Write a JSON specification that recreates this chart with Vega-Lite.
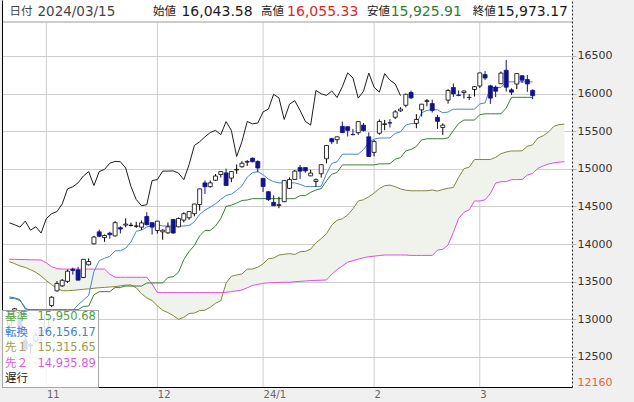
{
"$schema": "https://vega.github.io/schema/vega-lite/v6.json",
"width": 570, "height": 387,
"autosize": {"type": "none"},
"padding": {"left": 2, "top": 0, "right": 62, "bottom": 15},
"background": "#f0f0f0",
"config": {"view": {"fill": "#ffffff", "stroke": null}, "font": "DejaVu Sans"},
"datasets": {
"m": [{"i":7},{"i":28},{"i":48},{"i":69},{"i":89}],
"d": [
{"i":0,"o":12921,"h":13107,"l":12856,"c":13018,"tk":13280,"kj":13298,"sa":13766,"sb":13798,"ch":14282},
{"i":1,"o":13083,"h":13152,"l":13030,"c":13140,"tk":13275,"kj":13285,"sa":13740,"sb":13798,"ch":14258},
{"i":2,"o":13040,"h":13045,"l":12809,"c":12821,"tk":13250,"kj":13262,"sa":13710,"sb":13796,"ch":14226},
{"i":3,"o":12724,"h":12776,"l":12563,"c":12596,"tk":13160,"kj":13138.5,"sa":13690,"sb":13794,"ch":14305},
{"i":4,"o":12663,"h":12687,"l":12544,"c":12643,"tk":13075,"kj":13129,"sa":13660,"sb":13792,"ch":14185},
{"i":5,"o":12713,"h":12823,"l":12690,"c":12789,"tk":13030,"kj":13129,"sa":13625,"sb":13790,"ch":14230},
{"i":6,"o":12793,"h":12852,"l":12710,"c":12851,"tk":12970,"kj":13129,"sa":13576,"sb":13789,"ch":14147},
{"i":7,"o":12848,"h":13091,"l":12827,"c":13061,"tk":12880,"kj":13129,"sa":13515,"sb":13750,"ch":14340},
{"i":8,"o":13183,"h":13308,"l":13162,"c":13294,"tk":12926,"kj":13129,"sa":13460,"sb":13700,"ch":14404},
{"i":9,"o":13379,"h":13508,"l":13369,"c":13478,"tk":13026,"kj":13129,"sa":13410,"sb":13675,"ch":14432},
{"i":10,"o":13445,"h":13534,"l":13431,"c":13519,"tk":13039,"kj":13129,"sa":13381,"sb":13668,"ch":14533},
{"i":11,"o":13505,"h":13661,"l":13484,"c":13640,"tk":13102.5,"kj":13129,"sa":13381,"sb":13668,"ch":14734},
{"i":12,"o":13667,"h":13687,"l":13595,"c":13650,"tk":13115.5,"kj":13129,"sa":13385,"sb":13668,"ch":14762},
{"i":13,"o":13657,"h":13697,"l":13517,"c":13521,"tk":13193.5,"kj":13129,"sa":13392,"sb":13668,"ch":14814},
{"i":14,"o":13556,"h":13800,"l":13548,"c":13798,"tk":13255,"kj":13172,"sa":13400,"sb":13668,"ch":14905},
{"i":15,"o":13725,"h":13810,"l":13716,"c":13768,"tk":13318.5,"kj":13177,"sa":13405,"sb":13668,"ch":14964},
{"i":16,"o":14004,"h":14110,"l":13997,"c":14094,"tk":13636,"kj":13327,"sa":13413,"sb":13668,"ch":14778},
{"i":17,"o":14163,"h":14192,"l":14091,"c":14104,"tk":13780.5,"kj":13368,"sa":13420,"sb":13668,"ch":14964},
{"i":18,"o":14086,"h":14128,"l":14031,"c":14114,"tk":13811.5,"kj":13368,"sa":13425,"sb":13668,"ch":14993},
{"i":19,"o":14145,"h":14164,"l":14072,"c":14125,"tk":13838,"kj":13368,"sa":13430,"sb":13600,"ch":15075},
{"i":20,"o":14109,"h":14305,"l":14101,"c":14285,"tk":13911,"kj":13424.5,"sa":13435,"sb":13559,"ch":15099},
{"i":21,"o":14218,"h":14237,"l":14141,"c":14200,"tk":13911,"kj":13424.5,"sa":13445,"sb":13559,"ch":15095},
{"i":22,"o":14252,"h":14342,"l":14223,"c":14266,"tk":13945,"kj":13443,"sa":13455,"sb":13559,"ch":15011},
{"i":23,"o":14247,"h":14285,"l":14234,"c":14251,"tk":14029,"kj":13443,"sa":13457,"sb":13559,"ch":14766},
{"i":24,"o":14237,"h":14296,"l":14215,"c":14241,"tk":14169.5,"kj":13443,"sa":13420,"sb":13559,"ch":14592},
{"i":25,"o":14225,"h":14313,"l":14189,"c":14282,"tk":14186.5,"kj":13443,"sa":13340,"sb":13559,"ch":14510},
{"i":26,"o":14367,"h":14423,"l":14249,"c":14258,"tk":14227,"kj":13483.5,"sa":13285,"sb":13559,"ch":14524},
{"i":27,"o":14285,"h":14286,"l":14127,"c":14226,"tk":14247.5,"kj":13483.5,"sa":13250,"sb":13470,"ch":14844},
{"i":28,"o":14181,"h":14309,"l":14140,"c":14305,"tk":14262,"kj":13483.5,"sa":13180,"sb":13355,"ch":14858},
{"i":29,"o":14163,"h":14196,"l":14058,"c":14185,"tk":14240.5,"kj":13483.5,"sa":13120,"sb":13355,"ch":14970},
{"i":30,"o":14150,"h":14289,"l":14137,"c":14230,"tk":14240.5,"kj":13556.5,"sa":13090,"sb":13355,"ch":14970},
{"i":31,"o":14328,"h":14334,"l":14140,"c":14147,"tk":14240.5,"kj":13566.5,"sa":13050,"sb":13355,"ch":14973},
{"i":32,"o":14229,"h":14353,"l":14225,"c":14340,"tk":14240.5,"kj":13625,"sa":13000,"sb":13355,"ch":14944},
{"i":33,"o":14319,"h":14424,"l":14289,"c":14404,"tk":14241,"kj":13793,"sa":13027.5,"sb":13355,"ch":14856},
{"i":34,"o":14350,"h":14433,"l":14324,"c":14432,"tk":14245.5,"kj":13901,"sa":13077.5,"sb":13355,"ch":15056},
{"i":35,"o":14404,"h":14534,"l":14370,"c":14533,"tk":14296,"kj":13982.5,"sa":13084,"sb":13355,"ch":15311},
{"i":36,"o":14526,"h":14734,"l":14446,"c":14734,"tk":14396,"kj":14109,"sa":13116,"sb":13355,"ch":15360},
{"i":37,"o":14813,"h":14846,"l":14666,"c":14762,"tk":14452,"kj":14181.5,"sa":13122,"sb":13355,"ch":15426},
{"i":38,"o":14764,"h":14845,"l":14750,"c":14814,"tk":14491.5,"kj":14181.5,"sa":13161,"sb":13355,"ch":15482},
{"i":39,"o":14848,"h":14931,"l":14839,"c":14905,"tk":14535.5,"kj":14239.5,"sa":13213.5,"sb":13355,"ch":15511},
{"i":40,"o":14925,"h":14965,"l":14885,"c":14964,"tk":14595,"kj":14340.5,"sa":13248,"sb":13355,"ch":15455},
{"i":41,"o":14946,"h":15003,"l":14777,"c":14778,"tk":14646,"kj":14500,"sa":13481.5,"sb":13360,"ch":15628},
{"i":42,"o":14877,"h":14969,"l":14823,"c":14964,"tk":14663.5,"kj":14517,"sa":13574,"sb":13368,"ch":15510},
{"i":43,"o":14985,"h":15059,"l":14934,"c":14993,"tk":14714.5,"kj":14545,"sa":13590,"sb":13380,"ch":15164},
{"i":44,"o":15028,"h":15101,"l":15016,"c":15075,"tk":14773.5,"kj":14579.5,"sa":13603,"sb":13390,"ch":15362},
{"i":45,"o":15089,"h":15114,"l":15039,"c":15099,"tk":14890,"kj":14586,"sa":13668,"sb":13420,"ch":15629},
{"i":46,"o":15142,"h":15150,"l":15087,"c":15095,"tk":14950,"kj":14604,"sa":13668,"sb":13450,"ch":15598},
{"i":47,"o":15099,"h":15112,"l":14955,"c":15011,"tk":14963.5,"kj":14604,"sa":13694,"sb":13465,"ch":15609},
{"i":48,"o":14873,"h":14873,"l":14694,"c":14766,"tk":14922,"kj":14604,"sa":13736,"sb":13479,"ch":15757},
{"i":49,"o":14696,"h":14707,"l":14574,"c":14592,"tk":14862,"kj":14604,"sa":13806,"sb":13485,"ch":15794},
{"i":50,"o":14555,"h":14649,"l":14509,"c":14510,"tk":14829.5,"kj":14604,"sa":13815,"sb":13488,"ch":15991},
{"i":51,"o":14515,"h":14628,"l":14477,"c":14524,"tk":14813.5,"kj":14604,"sa":13855,"sb":13490,"ch":15943},
{"i":52,"o":14564,"h":14847,"l":14557,"c":14844,"tk":14813.5,"kj":14604,"sa":13865.5,"sb":13493,"ch":15656},
{"i":53,"o":14741,"h":14886,"l":14731,"c":14858,"tk":14813.5,"kj":14604,"sa":13873,"sb":13493,"ch":15859},
{"i":54,"o":14859,"h":14985,"l":14852,"c":14970,"tk":14813.5,"kj":14604,"sa":13862,"sb":13500,"ch":15906},
{"i":55,"o":15017,"h":15053,"l":14867,"c":14970,"tk":14794.5,"kj":14643.5,"sa":13898.5,"sb":13505,"ch":15776},
{"i":56,"o":15017,"h":15018,"l":14947,"c":14973,"tk":14765,"kj":14645,"sa":13903.5,"sb":13510,"ch":15631},
{"i":57,"o":14907,"h":14988,"l":14902,"c":14944,"tk":14765,"kj":14687.5,"sa":13933,"sb":13515,"ch":15581},
{"i":58,"o":14832,"h":14871,"l":14762,"c":14856,"tk":14765,"kj":14719.5,"sa":14017,"sb":13518,"ch":16042},
{"i":59,"o":14935,"h":15061,"l":14884,"c":15056,"tk":14769,"kj":14737,"sa":14073,"sb":13520,"ch":15997},
{"i":60,"o":15134,"h":15313,"l":15072,"c":15311,"tk":14935,"kj":14841.5,"sa":14139,"sb":13523,"ch":15976},
{"i":61,"o":15401,"h":15414,"l":15329,"c":15360,"tk":15072.5,"kj":14930,"sa":14252.5,"sb":13600,"ch":16035},
{"i":62,"o":15388,"h":15426,"l":15332,"c":15426,"tk":15094,"kj":14951.5,"sa":14317,"sb":13660,"ch":15948},
{"i":63,"o":15564,"h":15628,"l":15475,"c":15482,"tk":15195,"kj":15052.5,"sa":14336.5,"sb":13710,"ch":16092},
{"i":64,"o":15560,"h":15564,"l":15431,"c":15511,"tk":15195,"kj":15052.5,"sa":14387.5,"sb":13760,"ch":16275},
{"i":65,"o":15457,"h":15531,"l":15444,"c":15455,"tk":15195,"kj":15052.5,"sa":14468,"sb":13780,"ch":16208},
{"i":66,"o":15481,"h":15628,"l":15453,"c":15628,"tk":15195,"kj":15052.5,"sa":14573,"sb":13800,"ch":15940},
{"i":67,"o":15581,"h":15608,"l":15495,"c":15510,"tk":15256,"kj":15052.5,"sa":14590,"sb":13818,"ch":16032},
{"i":68,"o":15426,"h":15485,"l":15163,"c":15164,"tk":15350,"kj":15052.5,"sa":14630,"sb":13833,"ch":16273},
{"i":69,"o":15219,"h":15383,"l":15167,"c":15362,"tk":15395.5,"kj":15052.5,"sa":14676.5,"sb":13840,"ch":16085},
{"i":70,"o":15474,"h":15656,"l":15454,"c":15629,"tk":15409.5,"kj":15066.5,"sa":14738,"sb":13848,"ch":16019},
{"i":71,"o":15590,"h":15650,"l":15514,"c":15598,"tk":15409.5,"kj":15066.5,"sa":14777,"sb":13855,"ch":16266},
{"i":72,"o":15612,"h":15660,"l":15550,"c":15609,"tk":15411.5,"kj":15068.5,"sa":14784,"sb":13855,"ch":16178},
{"i":73,"o":15686,"h":15780,"l":15661,"c":15757,"tk":15471.5,"kj":15128.5,"sa":14763,"sb":13855,"ch":16129},
{"i":74,"o":15771,"h":15819,"l":15758,"c":15794,"tk":15491,"kj":15148,"sa":14733,"sb":13855,"ch":15973},
{"i":75,"o":15845,"h":16000,"l":15819,"c":15991,"tk":15581.5,"kj":15238.5,"sa":14717,"sb":13855},
{"i":76,"o":16015,"h":16038,"l":15930,"c":15943,"tk":15600.5,"kj":15257.5,"sa":14709,"sb":13850},
{"i":77,"o":15605,"h":15727,"l":15540,"c":15656,"tk":15602.5,"kj":15297.5,"sa":14709,"sb":13850},
{"i":78,"o":15784,"h":15864,"l":15695,"c":15859,"tk":15746,"kj":15384.5,"sa":14709,"sb":13850},
{"i":79,"o":15896,"h":15927,"l":15830,"c":15906,"tk":15776,"kj":15400,"sa":14709,"sb":13850},
{"i":80,"o":15868,"h":15920,"l":15748,"c":15776,"tk":15789,"kj":15400,"sa":14719,"sb":13850},
{"i":81,"o":15685,"h":15717,"l":15531,"c":15631,"tk":15784.5,"kj":15400,"sa":14705,"sb":13920},
{"i":82,"o":15549,"h":15603,"l":15452,"c":15581,"tk":15745,"kj":15400,"sa":14726,"sb":13930},
{"i":83,"o":15913,"h":16059,"l":15867,"c":16042,"tk":15755.5,"kj":15410.5,"sa":14742,"sb":13988.5},
{"i":84,"o":16081,"h":16134,"l":15958,"c":15997,"tk":15793,"kj":15509,"sa":14753,"sb":14156},
{"i":85,"o":15981,"h":16042,"l":15965,"c":15976,"tk":15793,"kj":15603,"sa":14888,"sb":14341},
{"i":86,"o":16014,"h":16040,"l":15935,"c":16035,"tk":15793,"kj":15648.5,"sa":15001,"sb":14422.5},
{"i":87,"o":15950,"h":15994,"l":15914,"c":15948,"tk":15793,"kj":15648.5,"sa":15023,"sb":14455},
{"i":88,"o":16055,"h":16101,"l":15961,"c":16092,"tk":15793,"kj":15648.5,"sa":15124,"sb":14572.5},
{"i":89,"o":16101,"h":16275,"l":16075,"c":16275,"tk":15863.5,"kj":15719,"sa":15124,"sb":14572.5},
{"i":90,"o":16253,"h":16300,"l":16181,"c":16208,"tk":15876,"kj":15731.5,"sa":15124,"sb":14588},
{"i":91,"o":16103,"h":16116,"l":15863,"c":15940,"tk":16081.5,"kj":15731.5,"sa":15124,"sb":14672},
{"i":92,"o":16085,"h":16107,"l":15953,"c":16032,"tk":16081.5,"kj":15731.5,"sa":15154,"sb":14812.5},
{"i":93,"o":16131,"h":16293,"l":16129,"c":16273,"tk":16081.5,"kj":15731.5,"sa":15201,"sb":14829.5},
{"i":94,"o":16310,"h":16449,"l":16026,"c":16085,"tk":16156,"kj":15808,"sa":15224,"sb":14829.5},
{"i":95,"o":16050,"h":16071,"l":15982,"c":16019,"tk":16156,"kj":15950.5,"sa":15238,"sb":14857},
{"i":96,"o":16127,"h":16266,"l":16060,"c":16266,"tk":16156,"kj":15950.5,"sa":15238,"sb":14857},
{"i":97,"o":16237,"h":16245,"l":16143,"c":16178,"tk":16156,"kj":15950.5,"sa":15240,"sb":14859},
{"i":98,"o":16187,"h":16246,"l":16024,"c":16129,"tk":16156,"kj":15950.5,"sa":15300,"sb":14919},
{"i":99,"o":16044,"h":16055,"l":15926,"c":15973,"tk":16156,"kj":15950.5,"sa":15319.5,"sb":14938.5},
{"i":100,"sa":15410,"sb":15007},
{"i":101,"sa":15440,"sb":15040},
{"i":102,"sa":15490,"sb":15065},
{"i":103,"sa":15565,"sb":15080},
{"i":104,"sa":15588,"sb":15090},
{"i":105,"sa":15594.5,"sb":15095}
]},
"resolve": {"axis": {"x": "independent", "y": "independent"}},
"layer": [
{"data": {"name": "m"},
 "mark": {"type": "rule", "color": "#cdcdcd", "strokeWidth": 1},
 "encoding": {
  "x": {"field": "i", "type": "quantitative", "scale": {"domain": [-0.45, 105.5], "nice": false, "zero": false},
        "axis": {"orient": "bottom", "values": [7, 28, 48, 69, 89], "labelExpr": "datum.value == 7 ? '11' : datum.value == 28 ? '12' : datum.value == 48 ? '24/1' : datum.value == 69 ? '2' : '3'", "grid": false, "ticks": false, "domain": true, "domainColor": "#000000", "domainWidth": 1, "labelAlign": "left", "labelDx": 2, "labelBaseline": "top", "labelPadding": 2, "labelFontSize": 10, "labelColor": "#666666", "labelFont": "DejaVu Sans", "labelOverlap": false, "labelFlush": false, "title": null}},
  "y": {"datum": 16952, "type": "quantitative", "scale": {"domain": [12101, 17244], "nice": false, "zero": false}, "axis": null},
  "y2": {"datum": 12101}
 }},
{"data": {"name": "d"},
 "mark": {"type": "area", "color": "#f0f3ec", "opacity": 1},
 "encoding": {
  "x": {"field": "i", "type": "quantitative", "scale": {"domain": [-0.45, 105.5], "nice": false, "zero": false},
        "axis": {"orient": "top", "offset": -21.5, "values": [-0.078, 5.219, 27.06, 32.45, 47.51, 52.45, 67.58, 72.04, 87.58, 92.12],
                 "labelExpr": "datum.value < 2 ? '日付' : datum.value < 15 ? '2024/03/15' : datum.value < 30 ? '始値' : datum.value < 40 ? '16,043.58' : datum.value < 50 ? '高値' : datum.value < 60 ? '16,055.33' : datum.value < 70 ? '安値' : datum.value < 80 ? '15,925.91' : datum.value < 90 ? '終値' : '15,973.17'",
                 "labelColor": {"expr": "datum.value > 50 && datum.value < 60 ? '#e0281f' : datum.value > 70 && datum.value < 80 ? '#2f7f2f' : datum.value < 15 ? '#444444' : '#1a1a1a'"},
                 "labelFontSize": {"expr": "(datum.value > 30 && datum.value < 40) || (datum.value > 50 && datum.value < 60) || (datum.value > 70 && datum.value < 80) || datum.value > 90 ? 14 : (datum.value > 2 && datum.value < 15 ? 13.5 : 11.5)"},
                 "labelAlign": "left", "labelBaseline": "middle", "labelPadding": 10.5, "ticks": false, "grid": false, "domain": true, "domainColor": "#9a9a9a", "labelFont": "DejaVu Sans, Noto Sans CJK JP", "labelOverlap": false, "labelFlush": false, "title": null}},
  "y": {"field": "sa", "type": "quantitative", "scale": {"domain": [12101, 17244], "nice": false, "zero": false},
        "axis": {"orient": "right", "values": [12160, 12500, 13000, 13500, 14000, 14500, 15000, 15500, 16000, 16500], "format": "d", "grid": true, "gridColor": "#cdcdcd", "gridWidth": 1,
                 "gridOpacity": {"condition": {"test": "datum.value == 12160", "value": 0}, "value": 1},
                 "ticks": true, "tickSize": 4, "tickColor": "#b4b4b4",
                 "tickOpacity": {"condition": {"test": "datum.value == 12160", "value": 0}, "value": 1},
                 "domain": true, "domainColor": "#222222", "domainDash": [2, 2], "labelPadding": 1, "labelFontSize": 11,
                 "labelColor": {"condition": {"test": "datum.value == 12160", "value": "#e8643c"}, "value": "#333333"},
                 "labelFont": "DejaVu Sans", "labelOverlap": false, "labelFlush": false, "title": null}},
  "y2": {"field": "sb"}
 }},
{"data": {"name": "d"},
 "mark": {"type": "line", "strokeWidth": 1},
 "encoding": {
  "x": {"field": "i", "type": "quantitative", "scale": {"domain": [-0.45, 105.5], "nice": false, "zero": false}, "axis": null},
  "y": {"field": "sb", "type": "quantitative", "scale": {"domain": [12101, 17244], "nice": false, "zero": false}, "axis": null},
  "color": {"datum": "先２", "type": "nominal",
   "scale": {"domain": ["基準", "転換", "先１", "先２", "遅行"], "range": ["#3d7d38", "#4a86cc", "#85853f", "#e04ce0", "#1e1e1e"]},
   "legend": {"title": null, "orient": "bottom-left", "offset": 0, "padding": 1.5, "fillColor": "rgba(255,255,255,0.85)", "strokeColor": "#a8a8a8", "symbolType": "circle", "symbolSize": 0.01, "symbolOpacity": 0, "symbolFillColor": "transparent", "symbolStrokeColor": "transparent", "symbolStrokeWidth": 0, "labelOffset": -10, "rowPadding": 2.5, "labelFontSize": 11.5, "labelFont": "DejaVu Sans, Noto Sans CJK JP", "labelLimit": 200,
     "labelExpr": "datum.value == '基準' ? '基準\u2002\u00a015,950.68' : datum.value == '転換' ? '転換\u2002\u00a016,156.17' : datum.value == '先１' ? '先１\u2002\u00a015,315.65' : datum.value == '先２' ? '先２\u2002\u00a014,935.89' : '遅行'",
     "labelColor": {"expr": "datum.value == '基準' ? '#52a044' : datum.value == '転換' ? '#3f7fd6' : datum.value == '先１' ? '#9c9c4c' : datum.value == '先２' ? '#dc5cdc' : '#222222'"}}}
 }},
{"data": {"name": "d"},
 "mark": {"type": "line", "strokeWidth": 1},
 "encoding": {
  "x": {"field": "i", "type": "quantitative", "scale": {"domain": [-0.45, 105.5], "nice": false, "zero": false}, "axis": null},
  "y": {"field": "sa", "type": "quantitative", "scale": {"domain": [12101, 17244], "nice": false, "zero": false}, "axis": null},
  "color": {"datum": "先１", "type": "nominal"}
 }},
{"data": {"name": "d"},
 "mark": {"type": "line", "strokeWidth": 1},
 "encoding": {
  "x": {"field": "i", "type": "quantitative", "scale": {"domain": [-0.45, 105.5], "nice": false, "zero": false}, "axis": null},
  "y": {"field": "ch", "type": "quantitative", "scale": {"domain": [12101, 17244], "nice": false, "zero": false},
        "axis": {"orient": "left", "labels": false, "ticks": false, "grid": false, "domain": true, "domainColor": "#000000", "title": null}},
  "color": {"datum": "遅行", "type": "nominal"}
 }},
{"data": {"name": "d"},
 "mark": {"type": "line", "strokeWidth": 1},
 "encoding": {
  "x": {"field": "i", "type": "quantitative", "scale": {"domain": [-0.45, 105.5], "nice": false, "zero": false}, "axis": null},
  "y": {"field": "kj", "type": "quantitative", "scale": {"domain": [12101, 17244], "nice": false, "zero": false}, "axis": null},
  "color": {"datum": "基準", "type": "nominal"}
 }},
{"data": {"name": "d"},
 "mark": {"type": "line", "strokeWidth": 1},
 "encoding": {
  "x": {"field": "i", "type": "quantitative", "scale": {"domain": [-0.45, 105.5], "nice": false, "zero": false}, "axis": null},
  "y": {"field": "tk", "type": "quantitative", "scale": {"domain": [12101, 17244], "nice": false, "zero": false}, "axis": null},
  "color": {"datum": "転換", "type": "nominal"}
 }},
{"data": {"name": "d"},
 "mark": {"type": "rule", "strokeWidth": 1},
 "encoding": {
  "x": {"field": "i", "type": "quantitative", "scale": {"domain": [-0.45, 105.5], "nice": false, "zero": false}, "axis": null},
  "y": {"field": "l", "type": "quantitative", "scale": {"domain": [12101, 17244], "nice": false, "zero": false}, "axis": null},
  "y2": {"field": "h"},
  "color": {"condition": {"test": "datum.c < datum.o", "value": "#12128a"}, "value": "#000000"}
 }},
{"data": {"name": "d"},
 "mark": {"type": "bar", "width": 4, "strokeWidth": 0.8},
 "encoding": {
  "x": {"field": "i", "type": "quantitative", "scale": {"domain": [-0.45, 105.5], "nice": false, "zero": false}, "axis": null},
  "y": {"field": "o", "type": "quantitative", "scale": {"domain": [12101, 17244], "nice": false, "zero": false}, "axis": null},
  "y2": {"field": "c"},
  "fill": {"condition": {"test": "datum.c < datum.o", "value": "#12128a"}, "value": "#ffffff"},
  "stroke": {"condition": {"test": "datum.c < datum.o", "value": "#12128a"}, "value": "#000000"}
 }}
]
}
